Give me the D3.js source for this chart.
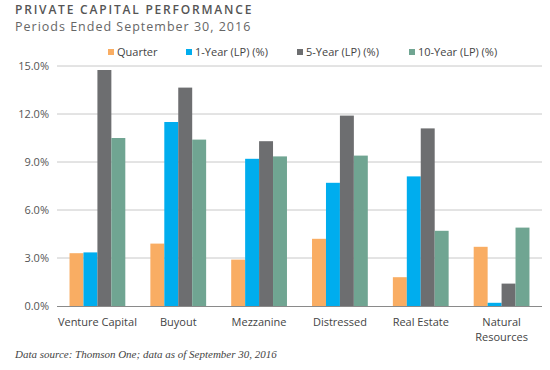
<!DOCTYPE html>
<html><head><meta charset="utf-8">
<script src="https://cdn.jsdelivr.net/npm/d3@7"></script>
<style>body{margin:0;background:#fff;}svg{display:block;}</style>
</head><body>
<svg id="c" width="550" height="370"></svg>
<script>
const categories = ["Venture Capital","Buyout","Mezzanine","Distressed","Real Estate","Natural Resources"];
const seriesNames = ["Quarter","1-Year (LP) (%)","5-Year (LP) (%)","10-Year (LP) (%)"];
const quarter = [3.3, 3.9, 2.9, 4.2, 1.8, 3.7];
const oneYear = [3.35, 11.5, 9.2, 7.7, 8.1, 0.2];
const fiveYear = [14.75, 13.65, 10.3, 11.9, 11.1, 1.4];
const tenYear = [10.5, 10.4, 9.35, 9.4, 4.7, 4.9];
const yTicks = [0, 3, 6, 9, 12, 15];
const colors = ["#F9AD63","#00ADEE","#6D6E70","#70A592"];
const series = [quarter, oneYear, fiveYear, tenYear];

(function(){
const svg = d3.select("#c");
const pL = 57, pR = 542, pT = 66, pB = 306;
const x = d3.scaleBand().domain(categories).range([pL, pR]).paddingInner(0.31).paddingOuter(0.155);
const xs = d3.scaleBand().domain(d3.range(4)).range([0, x.bandwidth()]);
const y = d3.scaleLinear().domain([0, 15]).range([pB, pT]);

svg.append("g").selectAll("line").data(yTicks.filter(d=>d>0)).join("line")
  .attr("x1", pL).attr("x2", pR).attr("y1", d=>y(d)).attr("y2", d=>y(d))
  .attr("stroke", "#c8c8c8").attr("stroke-width", 1);

svg.append("g").selectAll("text").data(yTicks).join("text")
  .attr("x", 49).attr("y", d=>y(d)).attr("dy", "0.35em")
  .attr("text-anchor", "end").attr("font-family", "Open Sans, sans-serif")
  .attr("font-size", 11).attr("fill", "#555")
  .text(d=>d.toFixed(1)+"%");

series.forEach((vals, si) => {
  svg.append("g").selectAll("rect").data(vals).join("rect")
    .attr("x", (d,i)=>x(categories[i]) + xs(si))
    .attr("width", xs.bandwidth())
    .attr("y", d=>y(d)).attr("height", d=>y(0)-y(d))
    .attr("fill", colors[si]);
});

svg.append("line").attr("x1", pL).attr("x2", pR).attr("y1", y(0)+0.5).attr("y2", y(0)+0.5)
  .attr("stroke", "#8a8a8a").attr("stroke-width", 1.2);

const xl = svg.append("g").selectAll("text").data(categories).join("text")
  .attr("x", d=>x(d)+x.bandwidth()/2).attr("y", 326)
  .attr("text-anchor", "middle").attr("font-family", "Open Sans, sans-serif")
  .attr("font-size", 11).attr("fill", "#444");
xl.each(function(d){
  const t = d3.select(this);
  if (d === "Natural Resources") {
    t.append("tspan").attr("x", x(d)+x.bandwidth()/2).attr("dy", 0).text("Natural");
    t.append("tspan").attr("x", x(d)+x.bandwidth()/2).attr("dy", 14.5).text("Resources");
  } else t.text(d);
});

const legX = [108, 186, 297, 409];
const lg = svg.append("g").selectAll("g").data(seriesNames).join("g")
  .attr("transform", (d,i)=>`translate(${legX[i]},52)`);
lg.append("rect").attr("x",0).attr("y",-3).attr("width",6).attr("height",6).attr("fill",(d,i)=>colors[i]);
lg.append("text").attr("x",9).attr("y",0).attr("dy","0.35em")
  .attr("font-family","Open Sans, sans-serif").attr("font-size",11).attr("fill","#444").text(d=>d);

svg.append("text").attr("x",15).attr("y",14).attr("font-family","Open Sans, sans-serif")
  .attr("font-size",12).attr("font-weight",600).attr("letter-spacing",1.8).attr("fill","#555")
  .text("PRIVATE CAPITAL PERFORMANCE");
svg.append("text").attr("x",15).attr("y",31).attr("font-family","Open Sans, sans-serif")
  .attr("font-size",12.5).attr("letter-spacing",1).attr("fill","#666")
  .text("Periods Ended September 30, 2016");

svg.append("text").attr("x",15).attr("y",358).attr("font-family","Liberation Serif, serif")
  .attr("font-style","italic").attr("font-size",11).attr("fill","#444")
  .text("Data source: Thomson One; data as of September 30, 2016");
})();
</script>
</body></html>
